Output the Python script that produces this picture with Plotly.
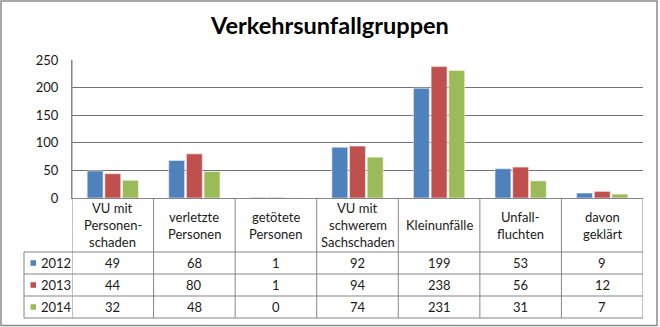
import plotly.graph_objects as go

categories = ["VU mit<br>Personen-<br>schaden", "verletzte<br>Personen", "getötete<br>Personen",
              "VU mit<br>schwerem<br>Sachschaden", "Kleinunfälle", "Unfall-<br>fluchten", "davon<br>geklärt"]
years = ["2012", "2013", "2014"]
v2012 = [49, 68, 1, 92, 199, 53, 9]
v2013 = [44, 80, 1, 94, 238, 56, 12]
v2014 = [32, 48, 0, 74, 231, 31, 7]
series = [v2012, v2013, v2014]
colors = ["#4F81BD", "#C0504D", "#9BBB59"]
yticks = [0, 50, 100, 150, 200, 250]

W, H = 660, 327
L, R, T, B = 72, 643, 60, 198
FONT = "Lato"

def px(x):
    return (x - L) / (R - L)

def py(y):
    return (B - y) / (B - T)

fig = go.Figure()
xs = list(range(len(categories)))
for name, vals, c in zip(years, series, colors):
    fig.add_trace(go.Bar(x=xs, y=vals, name=name, marker=dict(color=c, line=dict(color="#f2f2f2", width=0.6)),
                         showlegend=False))

shapes = []
line_col = "#858585"
# table horizontal lines
for y in [252, 274, 296, 318]:
    shapes.append(dict(type="line", xref="paper", yref="paper", x0=px(24), x1=1.0, y0=py(y), y1=py(y),
                       line=dict(color=line_col, width=1), layer="above"))
# category boundaries
for i in range(len(categories) + 1):
    shapes.append(dict(type="line", xref="x", yref="paper", x0=i - 0.5, x1=i - 0.5,
                       y0=0 if i > 0 else 1, y1=py(318), line=dict(color=line_col, width=1)))
# legend column left border
shapes.append(dict(type="line", xref="paper", yref="paper", x0=px(24), x1=px(24), y0=py(252), y1=py(318),
                   line=dict(color=line_col, width=1)))
# outer border
shapes.append(dict(type="rect", xref="paper", yref="paper", x0=px(1), x1=px(657), y0=py(1), y1=py(325.5),
                   line=dict(color="#8c8c8c", width=1.5), fillcolor="rgba(0,0,0,0)"))

annotations = []
base = dict(showarrow=False, xanchor="center", yanchor="middle")
txt_font = dict(family=FONT, size=13, color="#1a1a1a")
for i, cat in enumerate(categories):
    lines = cat.split("<br>")
    n = len(lines)
    for k, ln in enumerate(lines):
        yc = 225 + (k - (n - 1) / 2) * 17
        annotations.append(dict(x=i, y=py(yc), xref="x", yref="paper", text=ln, font=txt_font, **base))
row_c = [263, 285, 307]
for r, (name, vals, c) in enumerate(zip(years, series, colors)):
    for i, v in enumerate(vals):
        annotations.append(dict(x=i, y=py(row_c[r]), xref="x", yref="paper", text=str(v), font=txt_font, **base))
    shapes.append(dict(type="rect", xref="paper", yref="paper", x0=px(30.5), x1=px(36), y0=py(row_c[r] - 2.8),
                       y1=py(row_c[r] + 2.8), line=dict(width=0), fillcolor=c))
    annotations.append(dict(x=px(39), y=py(row_c[r]), xref="paper", yref="paper", text=name, showarrow=False,
                            xanchor="left", yanchor="middle", font=txt_font))

annotations.append(dict(x=px(329), y=py(25), xref="paper", yref="paper", text="<b>Verkehrsunfallgruppen</b>",
                        font=dict(family=FONT, size=23.5, color="#000000"), **base))

fig.update_layout(
    width=W, height=H,
    margin=dict(l=L, r=W - R, t=T, b=H - B, pad=0),
    paper_bgcolor="white", plot_bgcolor="white",
    barmode="group", bargap=0.35, bargroupgap=0.1,
    shapes=shapes, annotations=annotations,
    xaxis=dict(range=[-0.5, len(categories) - 0.5], showticklabels=False, showgrid=False, zeroline=False,
               showline=True, linecolor=line_col, linewidth=1, fixedrange=True),
    yaxis=dict(range=[0, 250], tickvals=yticks, showgrid=True, gridcolor="#727272", gridwidth=1,
               zeroline=False, showline=True, linecolor=line_col, linewidth=1, ticks="",
               ticklabelstandoff=10, tickfont=txt_font, fixedrange=True),
)

fig.write_html("out.html", config={"displayModeBar": False})
